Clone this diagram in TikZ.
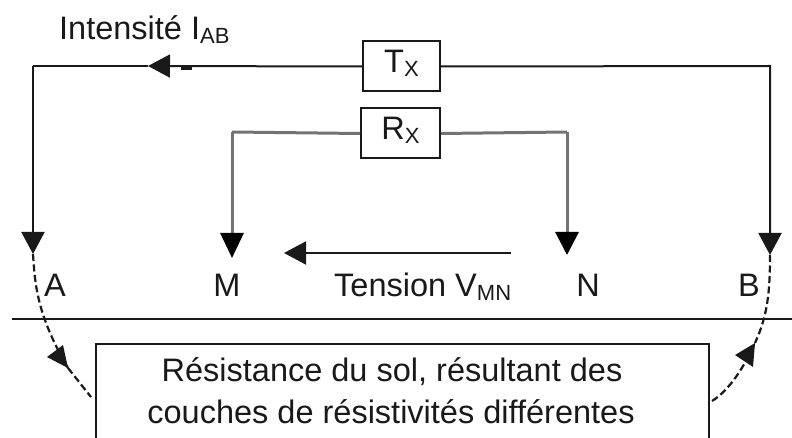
\documentclass[tikz,border=0pt]{standalone}
\usepackage{fontspec}
\setmainfont{Liberation Sans}
\usetikzlibrary{arrows.meta}
\definecolor{ink}{gray}{0.1}
\tikzset{
 wire/.style={draw=ink,line width=2pt},
 graywire/.style={draw=black!55,line width=3pt},
 tip/.style={-{Triangle[length=22pt,width=23pt]}},
 boxn/.style={draw=ink,line width=2pt,minimum height=50pt,inner sep=0pt,text height=24pt,text depth=11pt,font=\fontsize{32.5}{38}\selectfont,text=ink},
 lab/.style={inner sep=0pt,font=\fontsize{32.5}{38}\selectfont,text=ink,anchor=base},
 dashwire/.style={draw=ink,line width=2.2pt,dash pattern=on 7pt off 3.5pt},
 x=1pt,y=-1pt
}
\newcommand{\subs}[1]{\raisebox{-4pt}{\fontsize{22}{24}\selectfont #1}}
\begin{document}
\begin{tikzpicture}
\useasboundingbox (0,0) rectangle (792,438);
\node[boxn,minimum width=77pt] (T) at (401.5,66.5) {T\subs{X}};
\node[boxn,minimum width=79pt] (R) at (400.5,133.5) {R\subs{X}};
\coordinate (TL) at (33,66);
\coordinate (TM) at (148,66);
\coordinate (TR) at (770,66);
\coordinate (A) at (33,254);
\coordinate (B) at (770,255);
\coordinate (RL) at (232,132);
\coordinate (RR) at (567,132);
\coordinate (M) at (232,258);
\coordinate (N) at (567,255);
\coordinate (VS) at (511,253);
\coordinate (VE) at (284,253);
\coordinate (GL) at (12,319);
\coordinate (GR) at (792,319);
\draw[wire,tip] (T.west) -- (TM);
\draw[wire] (TM) -- (TL);
\draw[wire,tip] (TL) -- (A);
\draw[wire,tip] (T.east) -- (TR) -- (B);
\draw[graywire] (R.west) -- (RL);
\draw[graywire,-{Triangle[length=25pt,width=23pt,color=black]}] (RL) -- (M);
\draw[graywire] (R.east) -- (RR);
\draw[graywire,-{Triangle[length=23pt,width=23pt,color=black]}] (RR) -- (N);
\draw[wire,tip] (VS) -- (VE);
\draw[wire] (GL) -- (GR);
\draw[draw=ink,line width=3pt] (181,68.5) -- (192,68.5);
\draw[wire] (96,438) -- (96,344) -- (709,344) -- (709,438);
% dashed connectors
\coordinate (DA) at (91,397);
\coordinate (DAt) at (68,368);
\coordinate (DB) at (712,401);
\coordinate (DBt) at (755,343);
\draw[dashwire] (A) .. controls (35,285) and (37,315) .. (DAt);
\draw[dashwire] (DAt) -- (DA);
\draw[dashwire] (B) .. controls (770,290) and (768,315) .. (DBt);
\draw[dashwire] (DB) .. controls (730,390) and (745,365) .. (DBt);
\fill[ink] (68,368) -- (47,357) -- (63,345) -- cycle;
\fill[ink] (755,343) -- (735,355) -- (753,367) -- cycle;
% labels
\node[lab,anchor=base west] (li) at (59,40) {Intensité I\subs{AB}};
\node[lab] (la) at (55,296) {A};
\node[lab] (lm) at (227,296) {M};
\node[lab] (ln) at (588,296) {N};
\node[lab] (lb) at (749,296) {B};
\node[lab,anchor=base west] (lv) at (334,296) {Tension V\subs{MN}};
\node[lab] (t1) at (392,381) {Résistance du sol, résultant des};
\node[lab] (t2) at (391,423) {couches de résistivités différentes};
\end{tikzpicture}
\end{document}
